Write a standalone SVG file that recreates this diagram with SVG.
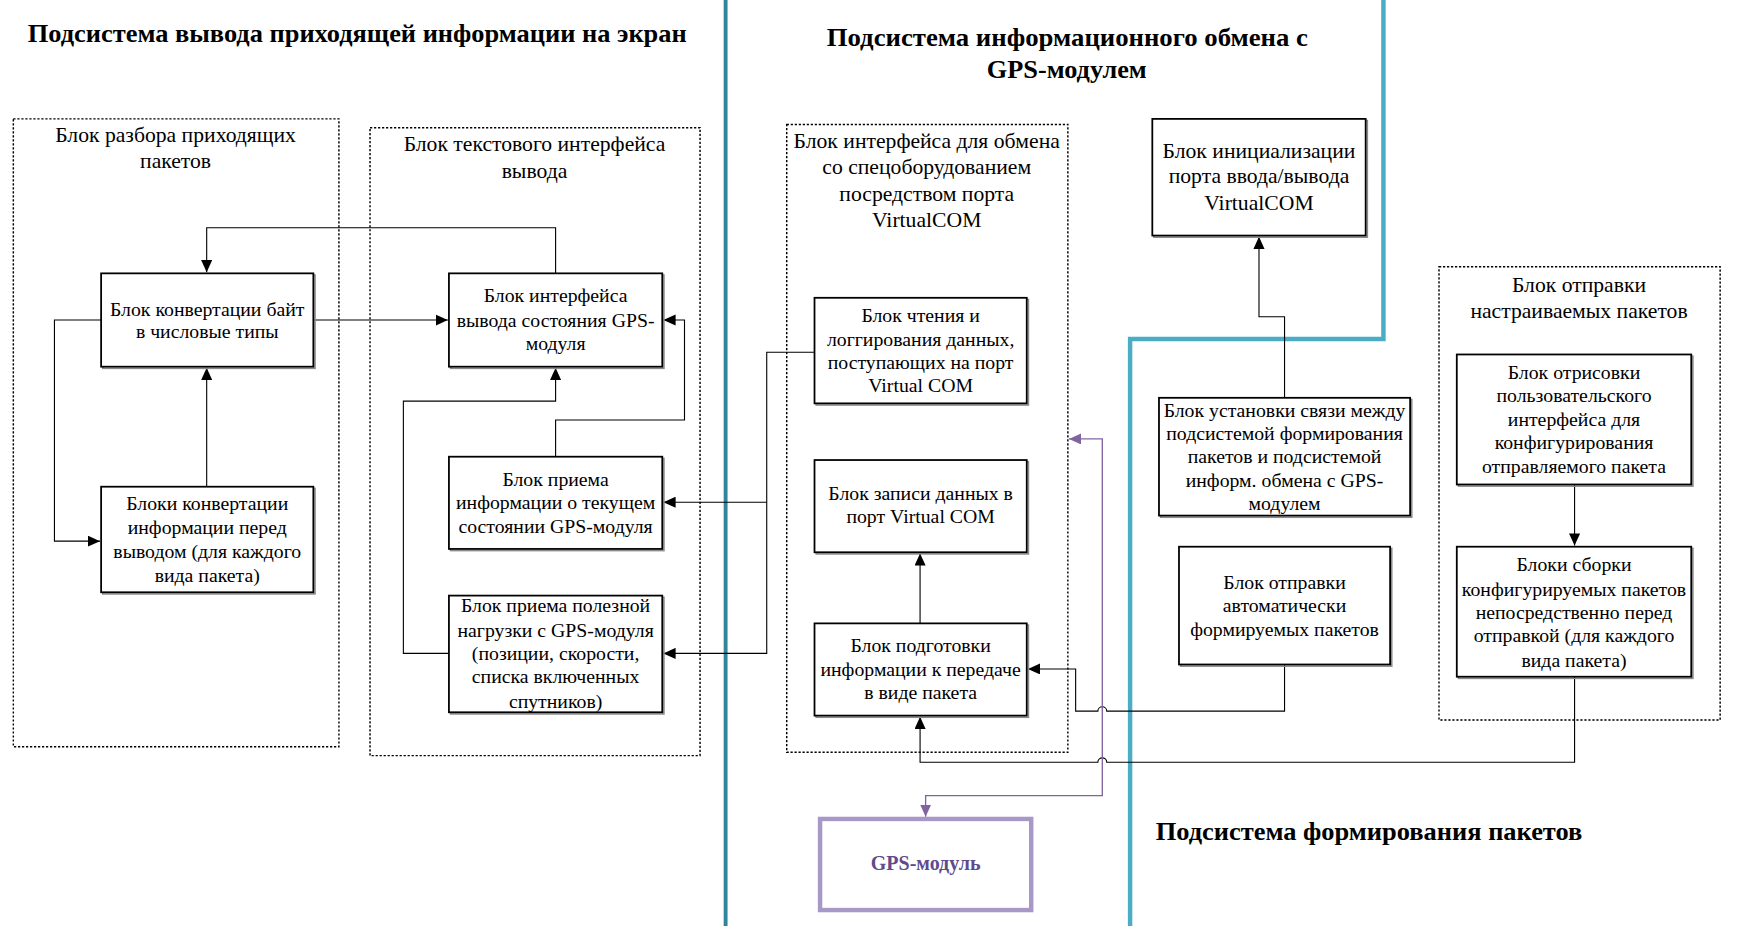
<svg xmlns="http://www.w3.org/2000/svg" width="1742" height="926" viewBox="0 0 1742 926">
<defs>
<style>
.t{font-family:"Liberation Serif","Times New Roman",serif;font-size:17.8px;fill:#000;text-anchor:middle}
.g{font-size:19.5px}
.h{font-family:"Liberation Serif","Times New Roman",serif;font-size:23px;font-weight:bold;fill:#000}
.box{fill:#fff;stroke:#000;stroke-width:1.6}
.sh{fill:none;stroke:#8a8a8a;stroke-width:1.4}
.dot{fill:none;stroke:#000;stroke-width:1.3;stroke-dasharray:2 1.6}
.c{fill:none;stroke:#000;stroke-width:1}
.p{fill:none;stroke:#8064a2;stroke-width:1.2}
</style>
<marker id="a" markerUnits="userSpaceOnUse" markerWidth="11" markerHeight="10" refX="11" refY="5" orient="auto-start-reverse"><path d="M0,0 L11,5 L0,10 z" fill="#000"/></marker>
<marker id="ap" markerUnits="userSpaceOnUse" markerWidth="11" markerHeight="10" refX="11" refY="5" orient="auto-start-reverse"><path d="M0,0 L11,5 L0,10 z" fill="#8064a2"/></marker>
</defs>
<rect width="1742" height="926" fill="#fff"/>
<g transform="scale(1.1112)">
<g id="dividers">
<line x1="653" y1="0" x2="653" y2="834" stroke="#31849b" stroke-width="3.5"/>
<path d="M1245,0 V305 H1017 V834" fill="none" stroke="#4bacc6" stroke-width="4"/>
</g>
<g id="titles">
<text class="h" x="25" y="38" textLength="593" lengthAdjust="spacingAndGlyphs">Подсистема вывода приходящей информации на экран</text>
<text class="h" x="744" y="41" textLength="433" lengthAdjust="spacingAndGlyphs">Подсистема  информационного обмена с</text>
<text class="h" x="888" y="70" textLength="144" lengthAdjust="spacingAndGlyphs">GPS-модулем</text>
<text class="h" x="1040" y="756" textLength="384" lengthAdjust="spacingAndGlyphs">Подсистема формирования пакетов</text>
</g>
<g id="groupA">
<rect class="dot" x="12" y="107" width="293" height="565"/>
<text class="t g" x="158" y="128">Блок разбора приходящих</text>
<text class="t g" x="158" y="151">пакетов</text>
</g>
<g id="groupB">
<rect class="dot" x="333" y="115" width="297" height="565"/>
<text class="t g" x="481" y="136">Блок текстового интерфейса</text>
<text class="t g" x="481" y="160">вывода</text>
</g>
<g id="groupC">
<rect class="dot" x="708" y="112" width="253" height="565"/>
<text class="t g" x="834" y="133">Блок интерфейса для обмена</text>
<text class="t g" x="834" y="157">со спецоборудованием</text>
<text class="t g" x="834" y="181">посредством порта</text>
<text class="t g" x="834" y="204">VirtualCOM</text>
</g>
<g id="groupD">
<rect class="dot" x="1295" y="240" width="253" height="408"/>
<text class="t g" x="1421" y="263">Блок отправки</text>
<text class="t g" x="1421" y="286">настраиваемых пакетов</text>
</g>
<g id="connectors">
<path class="c" d="M500,246 V205 H186 V245" marker-end="url(#a)"/>
<path class="c" d="M282,288 H403" marker-end="url(#a)"/>
<path class="c" d="M186,438 V331" marker-end="url(#a)"/>
<path class="c" d="M91,288 H49 V487 H90" marker-end="url(#a)"/>
<path class="c" d="M500,411 V378 H616 V288 H597" marker-end="url(#a)"/>
<path class="c" d="M404,588 H363 V361 H500 V331" marker-end="url(#a)"/>
<path class="c" d="M733,317 H690 V588 H597" marker-end="url(#a)"/>
<path class="c" d="M690,452 H597" marker-end="url(#a)"/>
<path class="c" d="M828,561 V498" marker-end="url(#a)"/>
<path class="c" d="M1156,358 V285 H1133 V213" marker-end="url(#a)"/>
<path class="c" d="M1156,598 V640 H996 A4,4 0 0 0 988,640 H968 V602 H925" marker-end="url(#a)"/>
<path class="c" d="M1417,609 V686 H996 A4,4 0 0 0 988,686 H828 V645" marker-end="url(#a)"/>
<path class="c" d="M1417,436 V491" marker-end="url(#a)"/>
<path class="p" d="M962,395 H992 V716 H833 V735" marker-start="url(#ap)" marker-end="url(#ap)"/>
</g>
<g id="n1">
<rect class="sh" x="92.5" y="247.5" width="191" height="84"/>
<rect class="box" x="91" y="246" width="191" height="84"/>
<text class="t" x="186.5" y="284">Блок конвертации байт</text>
<text class="t" x="186.5" y="304">в числовые типы</text>
</g>
<g id="n2">
<rect class="sh" x="92.5" y="439.5" width="191" height="95"/>
<rect class="box" x="91" y="438" width="191" height="95"/>
<text class="t" x="186.5" y="459">Блоки конвертации</text>
<text class="t" x="186.5" y="481">информации перед</text>
<text class="t" x="186.5" y="502">выводом (для каждого</text>
<text class="t" x="186.5" y="524">вида пакета)</text>
</g>
<g id="n3">
<rect class="sh" x="405.5" y="247.5" width="192" height="84"/>
<rect class="box" x="404" y="246" width="192" height="84"/>
<text class="t" x="500" y="272">Блок интерфейса</text>
<text class="t" x="500" y="294">вывода состояния GPS-</text>
<text class="t" x="500" y="315">модуля</text>
</g>
<g id="n4">
<rect class="sh" x="405.5" y="412.5" width="192" height="83"/>
<rect class="box" x="404" y="411" width="192" height="83"/>
<text class="t" x="500" y="437">Блок приема</text>
<text class="t" x="500" y="458">информации о текущем</text>
<text class="t" x="500" y="480">состоянии GPS-модуля</text>
</g>
<g id="n5">
<rect class="sh" x="405.5" y="537.5" width="192" height="105"/>
<rect class="box" x="404" y="536" width="192" height="105"/>
<text class="t" x="500" y="551">Блок приема полезной</text>
<text class="t" x="500" y="573">нагрузки с GPS-модуля</text>
<text class="t" x="500" y="594">(позиции, скорости,</text>
<text class="t" x="500" y="615">списка включенных</text>
<text class="t" x="500" y="637">спутников)</text>
</g>
<g id="n6">
<rect class="sh" x="734.5" y="269.5" width="191" height="95"/>
<rect class="box" x="733" y="268" width="191" height="95"/>
<text class="t" x="828.5" y="290">Блок чтения и</text>
<text class="t" x="828.5" y="311">логгирования данных,</text>
<text class="t" x="828.5" y="332">поступающих на порт</text>
<text class="t" x="828.5" y="353">Virtual COM</text>
</g>
<g id="n7">
<rect class="sh" x="734.5" y="415.5" width="191" height="83"/>
<rect class="box" x="733" y="414" width="191" height="83"/>
<text class="t" x="828.5" y="450">Блок записи данных в</text>
<text class="t" x="828.5" y="471">порт Virtual COM</text>
</g>
<g id="n8">
<rect class="sh" x="734.5" y="562.5" width="191" height="83"/>
<rect class="box" x="733" y="561" width="191" height="83"/>
<text class="t" x="828.5" y="587">Блок подготовки</text>
<text class="t" x="828.5" y="608">информации к передаче</text>
<text class="t" x="828.5" y="629">в виде пакета</text>
</g>
<g id="n9">
<rect class="sh" x="1038.5" y="108.5" width="192" height="105"/>
<rect class="box" x="1037" y="107" width="192" height="105"/>
<text class="t g" x="1133" y="142">Блок инициализации</text>
<text class="t g" x="1133" y="165">порта ввода/вывода</text>
<text class="t g" x="1133" y="189">VirtualCOM</text>
</g>
<g id="n10">
<rect class="sh" x="1044.5" y="359.5" width="226" height="106"/>
<rect class="box" x="1043" y="358" width="226" height="106"/>
<text class="t" x="1156" y="375">Блок установки связи между</text>
<text class="t" x="1156" y="396">подсистемой формирования</text>
<text class="t" x="1156" y="417">пакетов и подсистемой</text>
<text class="t" x="1156" y="438">информ. обмена с GPS-</text>
<text class="t" x="1156" y="459">модулем</text>
</g>
<g id="n11">
<rect class="sh" x="1062.5" y="493.5" width="190" height="106"/>
<rect class="box" x="1061" y="492" width="190" height="106"/>
<text class="t" x="1156" y="530">Блок отправки</text>
<text class="t" x="1156" y="551">автоматически</text>
<text class="t" x="1156" y="572">формируемых пакетов</text>
</g>
<g id="n12">
<rect class="sh" x="1312.5" y="320.5" width="211" height="117"/>
<rect class="box" x="1311" y="319" width="211" height="117"/>
<text class="t" x="1416.5" y="341">Блок отрисовки</text>
<text class="t" x="1416.5" y="362">пользовательского</text>
<text class="t" x="1416.5" y="383">интерфейса для</text>
<text class="t" x="1416.5" y="404">конфигурирования</text>
<text class="t" x="1416.5" y="426">отправляемого пакета</text>
</g>
<g id="n13">
<rect class="sh" x="1312.5" y="493.5" width="211" height="117"/>
<rect class="box" x="1311" y="492" width="211" height="117"/>
<text class="t" x="1416.5" y="514">Блоки сборки</text>
<text class="t" x="1416.5" y="536">конфигурируемых пакетов</text>
<text class="t" x="1416.5" y="557">непосредственно перед</text>
<text class="t" x="1416.5" y="578">отправкой (для каждого</text>
<text class="t" x="1416.5" y="600">вида пакета)</text>
</g>
<g id="gps">
<rect x="738" y="737" width="190" height="82" fill="#fff" stroke="#a898c8" stroke-width="4"/>
<text class="t" x="833" y="783" style="font-weight:bold;font-size:18px;fill:#5f4b8b">GPS-модуль</text>
</g>
</g>
</svg>
